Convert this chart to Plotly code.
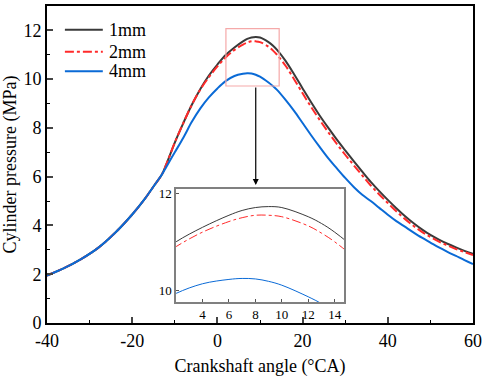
import plotly.graph_objects as go

angle = [-40, -36, -32, -28, -24, -20, -17, -15, -13, -12, -10, -8, -6, -4, -2, 0, 2, 4, 6, 7, 8, 9, 10,
         12, 13, 14, 16, 18, 20, 22, 24, 26, 28, 30, 32, 34, 36, 38, 40, 42, 44, 46, 48, 50, 52, 54, 56, 58, 60]

p_1mm = [1.95, 2.25, 2.62, 3.08, 3.70, 4.45, 5.10, 5.60, 6.10, 6.50, 7.40, 8.20, 8.95, 9.60, 10.15, 10.60, 11.00,
         11.30, 11.55, 11.65, 11.71, 11.73, 11.71, 11.52, 11.38, 11.20, 10.75, 10.20, 9.62, 9.05, 8.51, 8.01, 7.53,
         7.08, 6.64, 6.21, 5.79, 5.41, 5.05, 4.71, 4.39, 4.10, 3.84, 3.61, 3.42, 3.25, 3.10, 2.96, 2.84]

p_2mm = [1.95, 2.25, 2.62, 3.08, 3.70, 4.45, 5.10, 5.60, 6.10, 6.50, 7.40, 8.20, 8.95, 9.58, 10.08, 10.52, 10.90,
         11.20, 11.42, 11.50, 11.55, 11.55, 11.52, 11.33, 11.18, 11.00, 10.55, 10.00, 9.42, 8.86, 8.33, 7.83, 7.35,
         6.90, 6.47, 6.05, 5.64, 5.27, 4.92, 4.58, 4.27, 3.99, 3.74, 3.53, 3.34, 3.18, 3.03, 2.91, 2.79]

p_4mm = [1.95, 2.25, 2.62, 3.08, 3.70, 4.45, 5.10, 5.60, 6.10, 6.40, 7.00, 7.60, 8.25, 8.80, 9.25, 9.62, 9.93,
         10.13, 10.22, 10.24, 10.23, 10.18, 10.10, 9.86, 9.72, 9.56, 9.15, 8.70, 8.20, 7.70, 7.22, 6.76, 6.35,
         5.95, 5.58, 5.26, 5.00, 4.72, 4.44, 4.18, 3.95, 3.72, 3.50, 3.30, 3.10, 2.92, 2.75, 2.58, 2.42]

series_names = ["1mm", "2mm", "4mm"]
series_values = [p_1mm, p_2mm, p_4mm]
series_colors = ["#3a3a3a", "#ff2a2a", "#0a6ad6"]
series_dash = ["solid", "dashdot", "solid"]

x_ticks = [-40, -20, 0, 20, 40, 60]
x_labels = ["-40", "-20", "0", "20", "40", "60"]
y_ticks = [0, 2, 4, 6, 8, 10, 12]
inset_x_ticks = [4, 6, 8, 10, 12, 14]
inset_y_ticks = [10, 12]

FONT = "Liberation Serif, Times New Roman, serif"
fig = go.Figure()

for name, ys, col, dash in zip(series_names, series_values, series_colors, series_dash):
    fig.add_trace(go.Scatter(x=angle, y=ys, name=name, mode="lines", line_shape="spline",
                             showlegend=False, line=dict(color=col, width=2, dash=dash)))
for name, ys, col, dash in zip(series_names, series_values, series_colors, series_dash):
    fig.add_trace(go.Scatter(x=angle, y=ys, name=name, mode="lines", line_shape="spline",
                             showlegend=False, xaxis="x2", yaxis="y2",
                             line=dict(color=col, width=1, dash=dash)))

big = dict(family=FONT, size=18, color="black")
small = dict(family=FONT, size=13, color="black")

fig.update_layout(
    width=484, height=377,
    margin=dict(l=47, r=11, t=3, b=54),
    paper_bgcolor="white", plot_bgcolor="white",
    font=dict(family=FONT, size=16, color="black"),
    showlegend=False,
    xaxis=dict(range=[-40, 60], tickvals=x_ticks, ticktext=x_labels, ticks="inside", ticklen=6, tickwidth=1.5,
               showgrid=False, zeroline=False, showline=True, linecolor="black", linewidth=2, mirror=True,
               minor=dict(dtick=10, ticks="inside", ticklen=3, tickwidth=1.2, tickcolor="black"),
               title=dict(text="Crankshaft angle (°CA)", font=big, standoff=10),
               tickfont=big, automargin=False),
    yaxis=dict(range=[0, 13], tickvals=y_ticks, ticks="inside", ticklen=6, tickwidth=1.5,
               showgrid=False, zeroline=False, showline=True, linecolor="black", linewidth=2, mirror=True,
               minor=dict(dtick=1, ticks="inside", ticklen=3, tickwidth=1.2, tickcolor="black"),
               title=dict(text="Cylinder pressure (MPa)", font=big, standoff=6),
               tickfont=big, automargin=False),
    xaxis2=dict(domain=[0.303, 0.697], anchor="y2", range=[2, 14.7], tickvals=inset_x_ticks,
                ticks="inside", ticklen=3, tickwidth=1, tickcolor="#555",
                showgrid=False, zeroline=False, showline=True, linecolor="#808080", linewidth=1.5, mirror=True,
                tickfont=small),
    yaxis2=dict(domain=[0.066, 0.422], anchor="x2", range=[9.75, 12.09], tickvals=inset_y_ticks,
                ticks="inside", ticklen=3, tickwidth=1, tickcolor="#555",
                showgrid=False, zeroline=False, showline=True, linecolor="#808080", linewidth=1.5, mirror=True,
                tickfont=small),
)

# legend drawn manually to match the compact spacing
leg_rows = [0.925, 0.856, 0.794]
for name, col, dash, yy in zip(series_names, series_colors, series_dash, leg_rows):
    fig.add_shape(type="line", xref="paper", yref="paper", x0=0.042, x1=0.131, y0=yy, y1=yy,
                  line=dict(color=col, width=2, dash=dash))
    fig.add_annotation(x=0.141, y=yy, xref="paper", yref="paper", text=name, showarrow=False,
                       xanchor="left", yanchor="middle", font=big)

fig.add_shape(type="rect", xref="x", yref="y", x0=2, x1=14.5, y0=9.72, y1=12.07,
              line=dict(color="#f5a9a9", width=1.2))
fig.add_annotation(x=9, y=5.66, ax=9, ay=9.72, xref="x", yref="y", axref="x", ayref="y",
                   showarrow=True, arrowhead=2, arrowsize=1, arrowwidth=1.2, arrowcolor="black", text="")

fig.write_html("out.html", config={"displayModeBar": False},
               post_script="document.body.style.margin='0';document.body.style.padding='0';")
